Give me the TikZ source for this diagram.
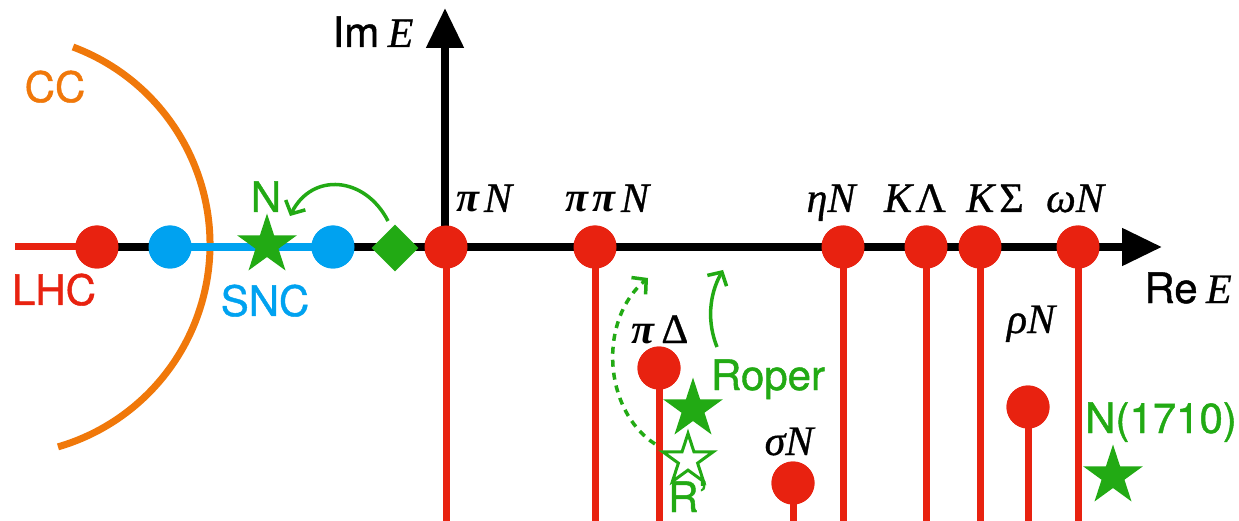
\documentclass[tikz,border=0pt]{standalone}
\usepackage{fontspec}
\setsansfont{TeX Gyre Heros}[UprightFeatures={FakeBold=1}]
\newfontfamily\tms{Liberation Serif}[UprightFeatures={FakeBold=0.7},ItalicFeatures={FakeBold=0.7}]
\usetikzlibrary{arrows.meta,shapes.geometric}
\definecolor{pred}{RGB}{232,34,16}
\definecolor{porange}{RGB}{240,120,10}
\definecolor{pblue}{RGB}{0,162,240}
\definecolor{pgreen}{RGB}{34,170,20}
\newcommand{\up}[1]{{\upshape #1}}
\newcommand{\bpi}{{\bfseries π}}
\begin{document}
\begin{tikzpicture}[x=1pt,y=-1pt,
 dot/.style={circle,fill=pred,minimum size=43pt,inner sep=0pt},
 sdot/.style={circle,fill=pblue,minimum size=43pt,inner sep=0pt},
 fstar/.style={star,star points=5,star point ratio=2.618,fill=pgreen,minimum size=63pt,inner sep=0pt},
 ostar/.style={star,star points=5,star point ratio=2.618,draw=pgreen,line width=3pt,fill=white,minimum size=53pt,inner sep=0pt},
 cutline/.style={pred,line width=7pt},
 axisline/.style={line width=8pt,-{Triangle[length=40pt,width=36pt]}},
 mlab/.style={font=\fontsize{42}{50}\selectfont\tms\itshape,anchor=base,inner sep=0pt},
 slab/.style={font=\fontsize{42}{50}\selectfont\sffamily,anchor=base,inner sep=0pt},
 garrow/.style={pgreen,line width=3.5pt,-{Straight Barb[length=10pt,width=22pt]}},
]
\useasboundingbox[fill=white] (0,0) rectangle (1239,521);
% coordinates
\coordinate (O) at (445,247);
\coordinate (xstart) at (15,247);
\coordinate (xend) at (1162,247);
\coordinate (yend) at (445,8);
\coordinate (bot) at (0,521);
% contour
\draw[porange,line width=7pt] (73,47) arc[start angle=-69.5,end angle=73.8,radius=210.8];
% nodes on axis (positions)
\node[dot] (lhc) at (97,247) {};
\node[sdot] (s1) at (170,247) {};
\node[sdot] (s2) at (333,247) {};
\node[dot] (piN) at (446,247) {};
\node[dot] (pipiN) at (595,247) {};
\node[dot] (etaN) at (843,247) {};
\node[dot] (KL) at (926,247) {};
\node[dot] (KS) at (980,247) {};
\node[dot] (omN) at (1078,247) {};
\node[dot] (piD) at (659,368) {};
\node[dot] (sigN) at (793,483) {};
\node[dot] (rhoN) at (1028,407) {};
\draw[cutline] (xstart) -- (lhc.center);
\draw[axisline] (lhc.center) -- (xend);
\draw[pblue,line width=7.5pt] (s1.center) -- (s2.center);
\draw[axisline] (O) -- (yend);
\foreach \n in {piN,pipiN,etaN,KL,KS,omN,piD,sigN,rhoN}{
  \draw[cutline] (\n.center) -- (\n.center |- bot);
}
% redraw dots on top
\foreach \n/\p in {lhc/{97,247},piN/{446,247},pipiN/{595,247},etaN/{843,247},KL/{926,247},KS/{980,247},omN/{1078,247},piD/{659,368},sigN/{793,483},rhoN/{1028,407}}{
  \node[dot] at (\p) {};
}
\node[sdot] at (170,247) {};
\node[sdot] at (333,247) {};
% green markers
\node[fstar] (Nstar) at (267,245) {};
\node[diamond,fill=pgreen,minimum size=47pt,inner sep=0pt] (dia) at (395,248) {};
\node[fstar] (roper) at (693,409) {};
\node[ostar] (rp) at (688,460) {};
\node[fstar] (n1710) at (1113,476) {};
% green arrows
\coordinate (a1s) at (388,221);
\coordinate (a1e) at (290,216);
\draw[garrow] (a1s) .. controls (365,176) and (312,172) .. (a1e);
\coordinate (a2s) at (655,444);
\coordinate (a2e) at (648,278);
\draw[garrow,dash pattern=on 7pt off 6pt] (a2s) .. controls (603,410) and (598,320) .. (a2e);
\coordinate (a3s) at (717,347);
\coordinate (a3e) at (723,270);
\draw[garrow] (a3s) .. controls (707,322) and (709,295) .. (a3e);
% labels
\node[slab,porange] (lCC) at (55,102) {CC};
\node[slab,pred] (lLHC) at (54,305) {LHC};
\node[slab,pblue] (lSNC) at (265,316) {SNC};
\node[slab,pgreen] (lN) at (266,212) {N};
\node[slab,pgreen] (lRoper) at (768,390) {Roper};
\node[slab,pgreen] (lRp) at (688,512) {R'};
\node[slab,pgreen] (l1710) at (1161,433) {N(1710)};
\node[slab] (lIm) at (373,47) {Im\hspace{0.2em}{\tms\itshape E}};
\node[slab] (lRe) at (1188,303) {Re\hspace{0.2em}{\tms\itshape E}};
\node[mlab] (tpiN) at (484,212) {\bpi\hspace{0.12em}N};
\node[mlab] (tpipiN) at (607,212) {\bpi\hspace{0.12em}\bpi\hspace{0.12em}N};
\node[mlab] (tetaN) at (831,212) {ηN};
\node[mlab] (tKL) at (915,212) {K\hspace{0.08em}\up{Λ}};
\node[mlab] (tKS) at (995,212) {K\hspace{0.12em}\up{Σ}};
\node[mlab] (tomN) at (1075,212) {ωN};
\node[mlab] (tpiD) at (660,343) {\bpi\hspace{0.16em}\up{Δ}};
\node[mlab] (tsigN) at (789,455) {σN};
\node[mlab] (trhoN) at (1031,333) {ρN};
\end{tikzpicture}
\end{document}
